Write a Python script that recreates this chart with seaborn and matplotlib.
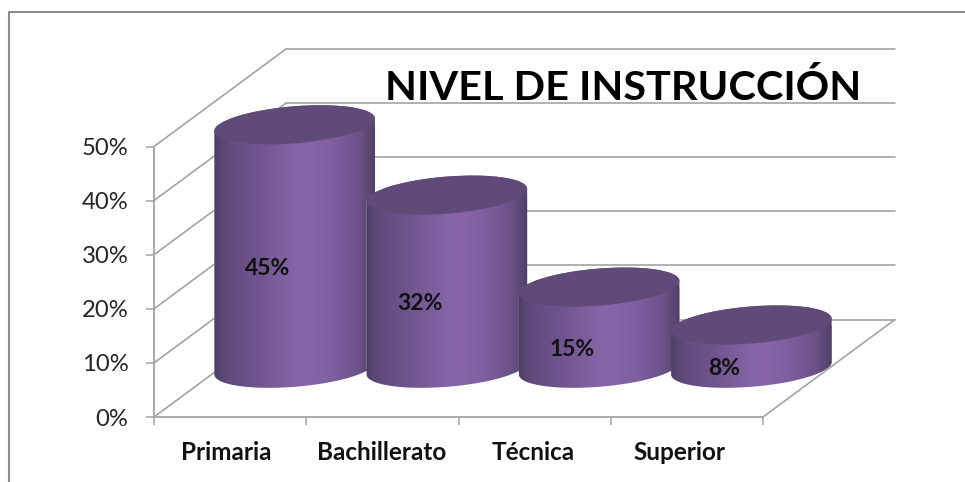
import numpy as np
import pandas as pd
import matplotlib
matplotlib.use("Agg")
import matplotlib.pyplot as plt
import seaborn as sns
from matplotlib.colors import LinearSegmentedColormap
from matplotlib.lines import Line2D
from matplotlib.patches import Ellipse
from matplotlib.path import Path
from matplotlib.ticker import PercentFormatter
from matplotlib.transforms import IdentityTransform

categories = ["Primaria", "Bachillerato", "Técnica", "Superior"]
values = [45, 32, 15, 8]
value_labels = ["45%", "32%", "15%", "8%"]
title_text = "NIVEL DE INSTRUCCIÓN"
y_ticks = [0, 10, 20, 30, 40, 50]

W, H = 965, 482
sns.set_theme(style="white")
plt.rcParams["font.family"] = ["Lato", "DejaVu Sans"]
fig = plt.figure(figsize=(W / 100, H / 100), dpi=100, facecolor="white")

GRID = "#a3a3a3"
L, B, AW, AH = 154, H - 417, 609, 270.5      # front plane, pixels
DX, DY = 132, 97.5                           # full depth of the 3D box, pixels

def rect(x, y):
    return [x / W, y / H, AW / W, AH / H]

# back wall
wall = fig.add_axes(rect(L + DX, B + DY), zorder=1)
wall.set_xlim(-0.5, 3.5); wall.set_ylim(0, 50)
wall.set_yticks(y_ticks); wall.set_xticks([])
wall.tick_params(left=False, labelleft=False)
wall.grid(True, axis="y", color=GRID, lw=1.2)
wall.set_facecolor("none")
sns.despine(ax=wall, left=True, bottom=True)
for ln in wall.get_ygridlines():
    ln.set_clip_on(False)

# front axes: ticks, spines, depth diagonals
ax = fig.add_axes(rect(L, B), zorder=2)
ax.set_facecolor("none")
ax.set_xlim(-0.5, 3.5); ax.set_ylim(0, 50)
sns.despine(ax=ax)
for s in ("left", "bottom"):
    ax.spines[s].set_color(GRID); ax.spines[s].set_linewidth(1.3)
ax.set_yticks(y_ticks)
ax.yaxis.set_major_formatter(PercentFormatter(decimals=0))
ax.tick_params(axis="y", left=True, length=5.8, width=1.1, color=GRID, pad=12.5,
               labelsize=17.2, labelcolor="#262626")
ux, uy = AW / 4, AH / 50
ax.set_xticks(np.arange(-0.5, 4, 1), minor=True)
ax.tick_params(axis="x", which="minor", bottom=True, length=5.8, width=1.1, color=GRID)
label_shift = [-4, -1, -1, -7]               # pixel nudge of category labels
ax.set_xticks([i + label_shift[i] / ux for i in range(4)])
ax.set_xticklabels(categories, fontweight="bold", fontsize=17.5, color="#111111")
ax.tick_params(axis="x", which="major", bottom=False, length=0, pad=17)
for v in y_ticks:
    ax.plot([-0.5, -0.5 + DX / ux], [v, v + DY / uy], color=GRID, lw=1.2, clip_on=False)
ax.plot([3.5, 3.5 + DX / ux], [0, DY / uy], color=GRID, lw=1.2, clip_on=False)

# cylinders
bax = fig.add_axes(rect(L + DX / 2 - 1.5, B + DY / 2), zorder=3)
bax.set_facecolor("none")
df = pd.DataFrame({"categoria": categories, "valor": values})
sns.barplot(data=df, x="categoria", y="valor", ax=bax, color="#6c5289", saturation=1,
            width=162 / ux, errorbar=None)
bax.set_xlim(-0.5, 3.5); bax.set_ylim(0, 50)
bax.axis("off")

cmap = LinearSegmentedColormap.from_list("cyl", [
    (0.00, "#453758"), (0.05, "#574470"), (0.12, "#634d80"), (0.30, "#71568f"),
    (0.50, "#8465a7"), (0.60, "#8666a9"), (0.75, "#7b5d9c"), (0.88, "#6c5289"),
    (0.95, "#5a4672"), (1.00, "#4a3b5e")])
grad = np.linspace(0, 1, 256).reshape(1, -1)

a, b, th = 80.5, 18.5, np.radians(4.7)
tr = np.arctan2(-b * np.sin(th), a * np.cos(th))
def arc(cx, cy, t):
    return np.c_[cx + a * np.cos(t) * np.cos(th) - b * np.sin(t) * np.sin(th),
                 cy + a * np.cos(t) * np.sin(th) + b * np.sin(t) * np.cos(th)]

pad_x = 3 / ux
for i, (bar, val, lab) in enumerate(zip(bax.patches, values, value_labels)):
    z = 3 + i
    xm = bar.get_x() + bar.get_width() / 2
    x0, yb = bax.transData.transform((xm, 0))
    x1, yt = bax.transData.transform((xm, val))
    low = arc(x0, yb, np.linspace(tr, tr - np.pi, 80))
    up = arc(x1, yt, np.linspace(tr + np.pi, tr, 80))
    verts = np.vstack([low, up, low[:1]])
    body = Path(verts, closed=True)
    bar.set_zorder(z)
    bar.set_clip_box(fig.bbox)
    bar.set_clip_path(body, IdentityTransform())
    im = bax.imshow(grad, cmap=cmap, aspect="auto", zorder=z + 0.1, interpolation="bilinear",
                    extent=[bar.get_x() - pad_x, bar.get_x() + bar.get_width() + pad_x, -8, val + 5])
    im.set_clip_box(fig.bbox)
    im.set_clip_path(body, IdentityTransform())
    bax.add_patch(Ellipse((x1, yt), 2 * a, 2 * b, angle=np.degrees(th), facecolor="#5f4a78",
                          edgecolor="none", transform=IdentityTransform(), zorder=z + 0.2,
                          clip_on=False))
    bax.annotate(lab, (xm, val / 2), xytext=(-27 * 0.72, -22 * 0.72), textcoords="offset points",
                 ha="center", va="center", fontsize=16.5, fontweight="bold", color="#111111",
                 zorder=20)
bax.set_xlim(-0.5, 3.5); bax.set_ylim(0, 50)

# chart frame, open at the right and bottom like the cropped source
for xs, ys in (([9, 9], [0, H - 12]), ([9, W], [H - 12, H - 12])):
    fig.add_artist(Line2D(np.array(xs) / W, np.array(ys) / H, color="#8c8c8c", lw=1.5, zorder=0))

fig.text(623 / W, (H - 100) / H, title_text, ha="center", va="baseline", fontsize=29.8,
         fontweight="bold", color="black", zorder=10)

fig.savefig("out.png", dpi=100, facecolor="white")
